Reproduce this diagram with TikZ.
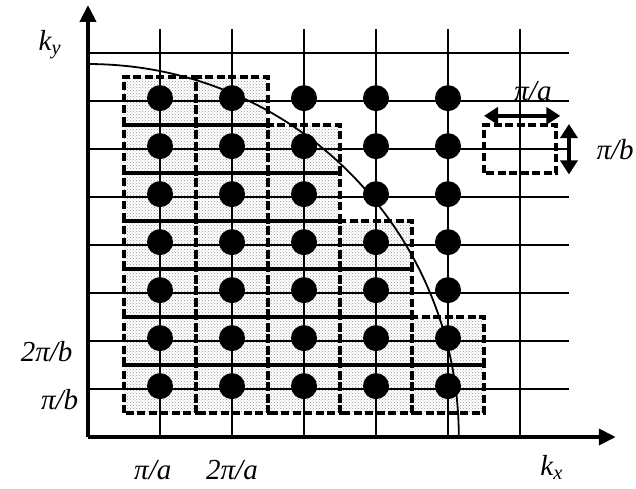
\documentclass[tikz,border=0pt]{standalone}
\usepackage{fontspec}
\setmainfont{Liberation Serif}
\usetikzlibrary{arrows.meta,patterns}

\begin{document}
\begin{tikzpicture}[x=72pt, y=48pt,
    gridline/.style = {line width=2pt},
    axisline/.style = {line width=4pt, -{Triangle[length=17pt,width=16pt]}},
    cellbox/.style  = {dash pattern=on 8pt off 3.5pt, line width=3.4pt},
    kdot/.style     = {circle, fill=black, inner sep=0pt, minimum size=26pt},
    lbl/.style      = {font=\fontsize{29}{34}\selectfont\itshape, inner sep=1pt},
    dblarrow/.style = {line width=4pt, {Triangle[length=14pt,width=17pt]}-{Triangle[length=14pt,width=17pt]}}]
    \useasboundingbox (-1.222,-1.0625) rectangle (7.611,9.104);

    % occupied cells
    \foreach \i/\n in {1/7, 2/7, 3/6, 4/4, 5/2}
        \foreach \j in {1,...,\n}
            \fill[pattern=crosshatch dots, pattern color=gray!80] (\i-0.5,\j-0.5) rectangle (\i+0.5,\j+0.5);

    % grid
    \foreach \i in {1,...,6}
        \draw[gridline] (\i,0) -- (\i,8.5);
    \foreach \j in {1,...,8}
        \draw[gridline] (0,\j) -- (6.68,\j);

    \foreach \i/\n in {1/7, 2/7, 3/6, 4/4, 5/2}
        \foreach \j in {1,...,\n}
            \draw[cellbox] (\i-0.5,\j-0.5) rectangle (\i+0.5,\j+0.5);

    % axes
    \coordinate (O) at (0, 0);
    \coordinate (ytip) at (0, 9.0);
    \coordinate (xtip) at (7.33, 0);
    \draw[axisline] (O) -- (ytip);
    \draw[axisline] (O) -- (xtip);

    % Fermi surface
    \draw[line width=1.8pt] (0,7.77) arc[start angle=90, end angle=0, x radius=5.15, y radius=7.77];

    % states
    \foreach \i in {1,...,5}
        \foreach \j in {1,...,7}
            \node[kdot] (d\i\j) at (\i, \j+0.06) {};

    % unit cell
    \draw[cellbox] (5.5, 5.5) rectangle (6.5, 6.5);
    \coordinate (al) at (5.5, 6.69);
    \coordinate (ar) at (6.56, 6.69);
    \coordinate (bt) at (6.68, 6.52);
    \coordinate (bb) at (6.68, 5.47);
    \draw[dblarrow] (al) -- (ar);
    \draw[dblarrow] (bt) -- (bb);
    \node[lbl] (pa) at (6.18, 7.21) {π/a};
    \node[lbl] (pb) at (7.32, 5.98) {π/b};

    % labels
    \node[lbl] (ky) at (-0.53, 8.17) {k\textsubscript{y}};
    \node[lbl] (kx) at (6.44, -0.63) {k\textsubscript{x}};
    \node[lbl] (xa1) at (0.9, -0.69) {π/a};
    \node[lbl] (xa2) at (2.0, -0.69) {2π/a};
    \node[lbl, anchor=east] (yb2) at (-0.2, 1.77) {2π/b};
    \node[lbl, anchor=east] (yb1) at (-0.12, 0.77) {π/b};
\end{tikzpicture}
\end{document}
